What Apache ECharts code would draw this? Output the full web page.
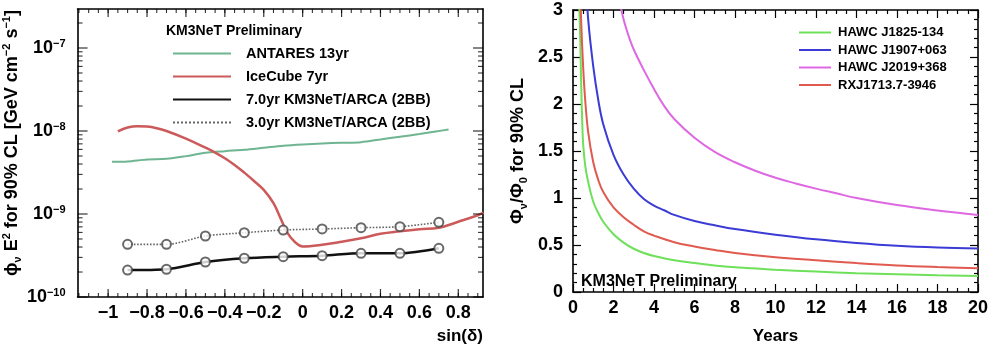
<!DOCTYPE html>
<html>
<head>
<meta charset="utf-8">
<script src="https://cdn.jsdelivr.net/npm/echarts@6/dist/echarts.min.js"></script>
<style>
  html, body { margin: 0; padding: 0; background: #fff; }
  #chart { width: 991px; height: 350px; }
</style>
</head>
<body>
<div id="chart"></div>
<script>
// ─── Left panel: sensitivity vs sin(declination) ───────────────────
const sinDecTicks = [-1, -0.8, -0.6, -0.4, -0.2, 0, 0.2, 0.4, 0.6, 0.8];
const fluxDecades = [1e-10, 1e-9, 1e-8, 1e-7];

const antaresX = [-0.98, -0.9, -0.8, -0.7, -0.6, -0.5, -0.4, -0.3, -0.2, -0.1, 0, 0.1, 0.2, 0.3, 0.4, 0.5, 0.6, 0.7, 0.75];
const antaresY = [4.25e-9, 4.3e-9, 4.54e-9, 4.62e-9, 4.98e-9, 5.47e-9, 5.72e-9, 5.94e-9, 6.28e-9, 6.64e-9, 6.89e-9, 7.08e-9, 7.21e-9, 7.34e-9, 7.91e-9, 8.53e-9, 9.18e-9, 9.98e-9, 1.045e-8];

const icecubeX = [-0.95, -0.9, -0.85, -0.8, -0.75, -0.7, -0.6, -0.5, -0.45, -0.4, -0.35, -0.3, -0.25, -0.2, -0.15, -0.11, -0.08, -0.04, 0, 0.1, 0.2, 0.3, 0.4, 0.5, 0.6, 0.7, 0.8, 0.9, 0.93];
const icecubeY = [9.9e-9, 1.1e-8, 1.14e-8, 1.13e-8, 1.08e-8, 1.0e-8, 8.1e-9, 6.3e-9, 5.5e-9, 4.7e-9, 3.9e-9, 3.15e-9, 2.5e-9, 1.95e-9, 1.35e-9, 8.5e-10, 6.0e-10, 4.6e-10, 4.06e-10, 4.25e-10, 4.62e-10, 5.1e-10, 5.78e-10, 6.19e-10, 6.55e-10, 6.83e-10, 8.07e-10, 9.67e-10, 1.04e-9];

const arcaX = [-0.9, -0.7, -0.5, -0.3, -0.1, 0.1, 0.3, 0.5, 0.7];
const arca7yrY = [2.11e-10, 2.16e-10, 2.64e-10, 2.93e-10, 3.06e-10, 3.15e-10, 3.36e-10, 3.36e-10, 3.86e-10];
const arca3yrY = [4.31e-10, 4.31e-10, 5.43e-10, 5.95e-10, 6.41e-10, 6.6e-10, 6.84e-10, 7.03e-10, 7.94e-10];

// ─── Right panel: required flux ratio vs years ─────────────────────
const j1825T = [0.3, 0.35, 0.4, 0.45, 0.5, 0.6, 0.75, 1, 1.25, 1.5, 2, 2.5, 3, 3.5, 4, 5, 6, 7, 8, 10, 12, 14, 16, 18, 20];
const j1825V = [3.1, 2.75, 2.25, 1.85, 1.58, 1.35, 1.17, 0.96, 0.84, 0.745, 0.615, 0.525, 0.46, 0.415, 0.383, 0.337, 0.308, 0.283, 0.262, 0.237, 0.218, 0.2, 0.188, 0.178, 0.17];

const j1907T = [0.65, 0.75, 1, 1.25, 1.5, 2, 2.5, 3, 3.5, 4, 4.5, 5, 6, 7, 8, 10, 12, 14, 16, 18, 20];
const j1907V = [3.3, 2.9, 2.4, 2.04, 1.78, 1.46, 1.25, 1.1, 0.99, 0.92, 0.87, 0.82, 0.755, 0.71, 0.67, 0.61, 0.56, 0.522, 0.492, 0.473, 0.462];

const j2019T = [2.3, 2.5, 2.8, 3, 3.5, 4, 4.5, 5, 6, 7, 8, 9, 10, 11, 12, 13, 14, 16, 18, 20];
const j2019V = [3.1, 2.9, 2.69, 2.58, 2.36, 2.16, 1.98, 1.84, 1.64, 1.49, 1.38, 1.29, 1.215, 1.155, 1.1, 1.05, 1.0, 0.925, 0.868, 0.82];

const rxjT = [0.35, 0.4, 0.5, 0.6, 0.75, 1, 1.25, 1.5, 2, 2.5, 3, 3.5, 4, 5, 6, 7, 8, 10, 12, 14, 16, 18, 20];
const rxjV = [3.3, 2.9, 2.4, 2.05, 1.7, 1.38, 1.19, 1.06, 0.9, 0.795, 0.715, 0.645, 0.6, 0.53, 0.485, 0.448, 0.415, 0.369, 0.338, 0.308, 0.283, 0.266, 0.253];

const FONT = "'Liberation Sans', Arial, Helvetica, sans-serif";
const zip = (xs, ys) => xs.map((x, i) => [x, ys[i]]);
const minus = (v) => (v < 0 ? "\u2212" + Math.abs(v) : String(v));

const LEFT_X = [-1.157, 0.927];
const LEFT_Y = [1e-10, 2.95e-7];

// minor tick positions (frame decoration only)
const sinDecMinor = [];
for (let k = -23; k <= 18; k++) sinDecMinor.push(+(k * 0.05).toFixed(2));
const fluxMinor = [];
fluxDecades.forEach((d) => { for (let m = 2; m <= 9; m++) if (m * d < LEFT_Y[1]) fluxMinor.push(m * d); });

const frameLine = { show: true, onZero: false, lineStyle: { color: "#000", width: 1.6 } };

function leftXAxis(position, withLabel) {
  return {
    type: "value", gridIndex: 0, position, min: LEFT_X[0], max: LEFT_X[1],
    axisLine: frameLine,
    axisTick: { show: false },
    splitLine: { show: false },
    axisLabel: withLabel
      ? { show: true, customValues: sinDecTicks, formatter: minus, margin: 7,
          color: "#000", fontSize: 18, fontWeight: "bold", fontFamily: FONT }
      : { show: false },
  };
}

function leftYAxis(position, withLabel) {
  return {
    type: "log", logBase: 10, gridIndex: 0, position, min: LEFT_Y[0], max: LEFT_Y[1],
    axisLine: frameLine,
    axisTick: { show: false },
    splitLine: { show: false },
    minorTick: { show: false },
    axisLabel: withLabel
      ? { show: true, customValues: fluxDecades, margin: 12,
          formatter: (v) => "{b|10}{s|\u2212" + Math.abs(Math.round(Math.log10(v))) + "}",
          rich: {
            b: { fontSize: 18, fontWeight: "bold", color: "#000", fontFamily: FONT, lineHeight: 20 },
            s: { fontSize: 11, fontWeight: "bold", color: "#000", fontFamily: FONT, verticalAlign: "top", lineHeight: 14 },
          } }
      : { show: false },
  };
}

const tickLine = { color: "#000", width: 1.2 };

function rightXAxis(position, withLabel) {
  return {
    type: "value", gridIndex: 1, position, min: 0, max: 20, interval: 2,
    axisLine: frameLine,
    axisTick: { show: true, inside: true, length: 8, lineStyle: tickLine },
    minorTick: { show: true, splitNumber: 4, length: 4, lineStyle: tickLine },
    splitLine: { show: false },
    axisLabel: withLabel
      ? { show: true, margin: 7, color: "#000", fontSize: 18, fontWeight: "bold", fontFamily: FONT }
      : { show: false },
  };
}

function rightYAxis(position, withLabel) {
  return {
    type: "value", gridIndex: 1, position, min: 0, max: 3, interval: 0.5,
    axisLine: frameLine,
    axisTick: { show: true, inside: true, length: 8, lineStyle: tickLine },
    minorTick: { show: true, splitNumber: 5, length: 4, lineStyle: tickLine },
    splitLine: { show: false },
    axisLabel: withLabel
      ? { show: true, margin: 10, color: "#000", fontSize: 18, fontWeight: "bold", fontFamily: FONT }
      : { show: false },
  };
}

const nameRich = {
  a: { fontSize: 18, fontWeight: "bold", color: "#000", fontFamily: FONT, lineHeight: 22 },
  sup: { fontSize: 11, fontWeight: "bold", color: "#000", fontFamily: FONT, verticalAlign: "top", lineHeight: 12 },
  sub: { fontSize: 11, fontWeight: "bold", color: "#000", fontFamily: FONT, verticalAlign: "bottom", lineHeight: 12 },
};

const xAxes = [
  Object.assign(leftXAxis("bottom", true), {
    name: "sin(\u03b4)", nameLocation: "end", nameGap: 0,
    nameTextStyle: { align: "right", verticalAlign: "top", padding: [31, 0, 0, 0],
      fontSize: 17, fontWeight: "bold", color: "#000", fontFamily: FONT },
  }),
  leftXAxis("top", false),
  Object.assign(rightXAxis("bottom", true), {
    name: "Years", nameLocation: "middle", nameGap: 36,
    nameTextStyle: { fontSize: 17, fontWeight: "bold", color: "#000", fontFamily: FONT },
  }),
  rightXAxis("top", false),
];

const yAxes = [
  Object.assign(leftYAxis("left", true), {
    name: "{a|\u03d5}{sub|\u03bd}{a| E}{sup|2}{a| for 90% CL [GeV cm}{sup|\u22122}{a| s}{sup|\u22121}{a|]}",
    nameLocation: "middle", nameGap: 43, nameRotate: 90,
    nameTextStyle: { rich: nameRich, padding: [0, 0, 0, 20] },
  }),
  leftYAxis("right", false),
  Object.assign(rightYAxis("left", true), {
    name: "{a|\u03a6}{sub|\u03bd}{a|/\u03a6}{sub|0}{a| for 90% CL}",
    nameLocation: "middle", nameGap: 44, nameRotate: 90,
    nameTextStyle: { rich: nameRich },
  }),
  rightYAxis("right", false),
];

function leftLine(name, data, color, width, type, smooth) {
  return {
    type: "line", name, xAxisIndex: 0, yAxisIndex: 0, data, smooth,
    symbol: "none", animation: false,
    lineStyle: { color, width, type }, itemStyle: { color },
  };
}

function markers(name, data) {
  return {
    type: "scatter", name, xAxisIndex: 0, yAxisIndex: 0, data,
    symbol: "emptyCircle", symbolSize: 9, animation: false, z: 5,
    itemStyle: { color: "#444", borderColor: "#444", borderWidth: 1.6 },
  };
}

// inward frame ticks of the left (ROOT-style) panel, placed through its own scales
function frameTicks(name, data, size, offset) {
  return {
    type: "scatter", name, xAxisIndex: 0, yAxisIndex: 0, data,
    symbol: "rect", symbolSize: size, symbolOffset: offset,
    clip: false, silent: true, animation: false, z: 6,
    itemStyle: { color: "#000" },
  };
}

function rightLine(name, data, color) {
  return {
    type: "line", name, xAxisIndex: 2, yAxisIndex: 2, data, smooth: 0.4,
    symbol: "none", animation: false, clip: true,
    lineStyle: { color, width: 2 }, itemStyle: { color },
  };
}

const legendText = (size) => ({
  fontSize: size, fontWeight: "bold", color: "#000", fontFamily: FONT, padding: [0, 0, 0, 0],
});
// hide the symbol that ECharts puts in the middle of line-legend icons
const hiddenSymbol = { color: "rgba(0,0,0,0)", borderColor: "rgba(0,0,0,0)", borderWidth: 0 };

const option = {
  animation: false,
  backgroundColor: "#fff",
  textStyle: { fontFamily: FONT },
  grid: [
    { left: 76, top: 9, width: 407, height: 288, containLabel: false },
    { left: 573, top: 10, width: 407, height: 287, containLabel: false },
  ],
  title: [
    { text: "KM3NeT Preliminary", left: 166, top: 24, padding: 0,
      textStyle: { fontSize: 14, fontWeight: "bold", color: "#000", fontFamily: FONT } },
    { text: "KM3NeT Preliminary", left: 581, top: 274, padding: 0,
      textStyle: { fontSize: 16, fontWeight: "bold", color: "#000", fontFamily: FONT } },
  ],
  legend: [
    {
      data: ["ANTARES 13yr", "IceCube 7yr", "7.0yr KM3NeT/ARCA (2BB)", "3.0yr KM3NeT/ARCA (2BB)"],
      orient: "vertical", left: 172, top: 46, padding: 0,
      itemWidth: 58, itemHeight: 14, itemGap: 8, itemStyle: hiddenSymbol,
      textStyle: Object.assign(legendText(14.5), { padding: [0, 0, 0, 10] }),
    },
    {
      data: ["HAWC J1825-134", "HAWC J1907+063", "HAWC J2019+368", "RXJ1713.7-3946"],
      orient: "vertical", left: 798, top: 26, padding: 0,
      itemWidth: 32, itemHeight: 14, itemGap: 4.5, itemStyle: hiddenSymbol,
      textStyle: Object.assign(legendText(13), { padding: [0, 0, 0, 2] }),
    },
  ],
  xAxis: xAxes,
  yAxis: yAxes,
  series: [
    leftLine("ANTARES 13yr", zip(antaresX, antaresY), "#6fb592", 2, "solid", 0.3),
    leftLine("IceCube 7yr", zip(icecubeX, icecubeY), "#cc5a5a", 2.5, "solid", 0.4),
    leftLine("7.0yr KM3NeT/ARCA (2BB)", zip(arcaX, arca7yrY), "#111", 2.5, "solid", 0.3),
    leftLine("3.0yr KM3NeT/ARCA (2BB)", zip(arcaX, arca3yrY), "#666", 1.6, "dotted", 0.3),
    markers("arca7yr points", zip(arcaX, arca7yrY)),
    markers("arca3yr points", zip(arcaX, arca3yrY)),
    frameTicks("ticks bottom", sinDecTicks.map((v) => [v, LEFT_Y[0]]), [1.2, 8], [0, -4]),
    frameTicks("ticks top", sinDecTicks.map((v) => [v, LEFT_Y[1]]), [1.2, 8], [0, 4]),
    frameTicks("minor bottom", sinDecMinor.map((v) => [v, LEFT_Y[0]]), [1.1, 4], [0, -2]),
    frameTicks("minor top", sinDecMinor.map((v) => [v, LEFT_Y[1]]), [1.1, 4], [0, 2]),
    frameTicks("ticks left", fluxDecades.map((v) => [LEFT_X[0], v]), [10, 1.2], [5, 0]),
    frameTicks("ticks right", fluxDecades.map((v) => [LEFT_X[1], v]), [10, 1.2], [-5, 0]),
    frameTicks("minor left", fluxMinor.map((v) => [LEFT_X[0], v]), [5, 1.1], [2.5, 0]),
    frameTicks("minor right", fluxMinor.map((v) => [LEFT_X[1], v]), [5, 1.1], [-2.5, 0]),
    rightLine("HAWC J1825-134", zip(j1825T, j1825V), "#6ee05a"),
    rightLine("HAWC J1907+063", zip(j1907T, j1907V), "#3b3bd6"),
    rightLine("HAWC J2019+368", zip(j2019T, j2019V), "#de68e2"),
    rightLine("RXJ1713.7-3946", zip(rxjT, rxjV), "#e05a50"),
  ],
};

const chart = echarts.init(document.getElementById("chart"), null, { renderer: "canvas" });
chart.setOption(option);
</script>
</body>
</html>
